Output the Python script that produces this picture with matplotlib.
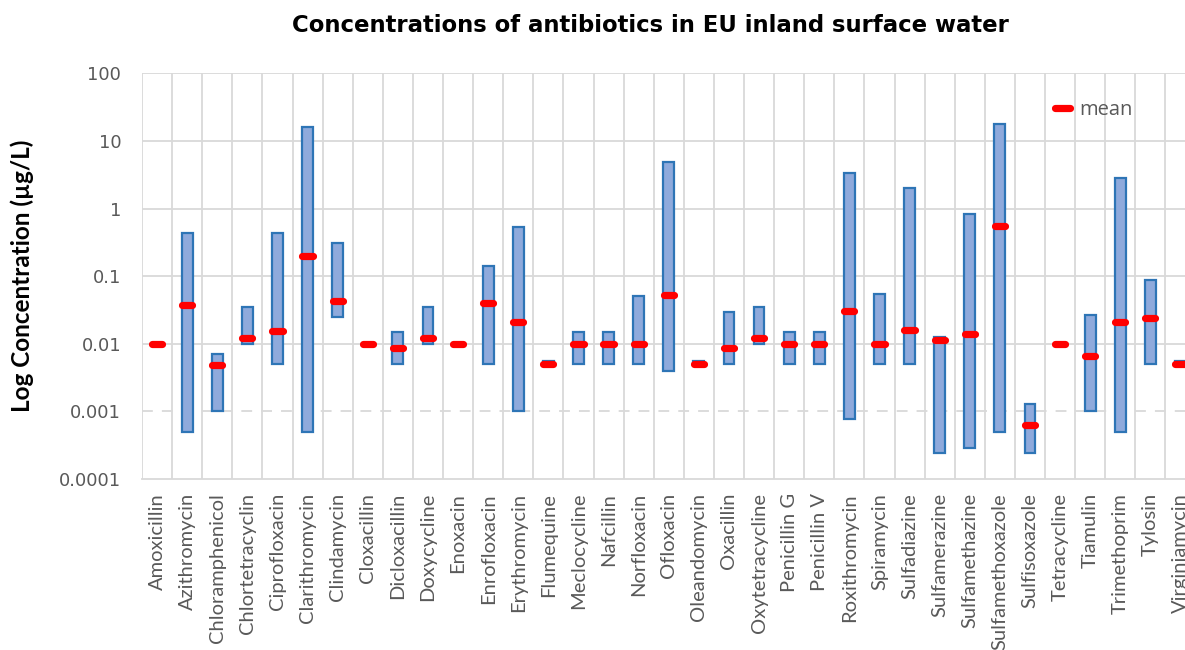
import matplotlib
matplotlib.use("Agg")
import matplotlib.pyplot as plt
from matplotlib.lines import Line2D
import numpy as np

categories = ["Amoxicillin", "Azithromycin", "Chloramphenicol", "Chlortetracyclin",
              "Ciprofloxacin", "Clarithromycin", "Clindamycin", "Cloxacillin",
              "Dicloxacillin", "Doxycycline", "Enoxacin", "Enrofloxacin",
              "Erythromycin", "Flumequine", "Meclocycline", "Nafcillin",
              "Norfloxacin", "Ofloxacin", "Oleandomycin", "Oxacillin",
              "Oxytetracycline", "Penicillin G", "Penicillin V", "Roxithromycin",
              "Spiramycin", "Sulfadiazine", "Sulfamerazine", "Sulfamethazine",
              "Sulfamethoxazole", "Sulfisoxazole", "Tetracycline", "Tiamulin",
              "Trimethoprim", "Tylosin", "Virginiamycin"]

min_vals = [0.01, 0.0005, 0.001, 0.01, 0.005, 0.0005, 0.025, 0.01,
            0.005, 0.01, 0.01, 0.005, 0.001, 0.005, 0.005, 0.005,
            0.005, 0.004, 0.005, 0.005, 0.01, 0.005, 0.005, 0.00078,
            0.005, 0.005, 0.00024, 0.00029, 0.0005, 0.00024, 0.01, 0.001,
            0.0005, 0.005, 0.005]

max_vals = [0.01, 0.44, 0.0071, 0.035, 0.44, 16.0, 0.31, 0.01,
            0.015, 0.035, 0.01, 0.143, 0.54, 0.0055, 0.015, 0.015,
            0.051, 4.9, 0.0055, 0.030, 0.035, 0.015, 0.015, 3.4,
            0.055, 2.03, 0.0127, 0.84, 17.6, 0.00127, 0.01, 0.0266,
            2.8, 0.0885, 0.0055]

mean_vals = [0.01, 0.038, 0.0048, 0.012, 0.0153, 0.198, 0.043, 0.01,
             0.0086, 0.012, 0.01, 0.04, 0.021, 0.005, 0.0098, 0.0098,
             0.01, 0.052, 0.005, 0.0086, 0.012, 0.0098, 0.0098, 0.031,
             0.01, 0.0158, 0.0115, 0.0139, 0.557, 0.00063, 0.01, 0.0066,
             0.021, 0.0238, 0.005]

y_ticks = [0.0001, 0.001, 0.01, 0.1, 1, 10, 100]
y_tick_labels = ["0.0001", "0.001", "0.01", "0.1", "1", "10", "100"]

W, H = 1185, 650
fig = plt.figure(figsize=(W / 100, H / 100), dpi=100)
left_px, right_px, top_px, bot_px = 142, 142 + 35 * 30.1, 73.3, 479
ax = fig.add_axes([left_px / W, 1 - bot_px / H, (right_px - left_px) / W, (bot_px - top_px) / H])

x = np.arange(len(categories))
mins = np.array(min_vals)
maxs = np.array(max_vals)
heights = maxs - mins

ax.bar(x, heights, bottom=mins, width=0.36, color="#8FAADC", edgecolor="#2E75B6",
       linewidth=1.6, zorder=3)
ax.hlines(mean_vals, x - 0.17, x + 0.17, colors="#FF0000", linewidth=5.2,
          capstyle="round", zorder=4)

ax.set_yscale("log")
ax.set_ylim(0.0001, 100)
ax.set_xlim(-0.5, len(categories) - 0.5)
ax.set_yticks(y_ticks)
ax.set_yticklabels(y_tick_labels, fontsize=13, color="#595959", family="DejaVu Sans")
ax.yaxis.set_minor_locator(matplotlib.ticker.NullLocator())
ax.tick_params(axis="y", length=0, pad=15)

ax.set_xticks(x)
ax.set_xticklabels(categories, rotation=90, fontsize=14.5, color="#595959",
                   family="Lato", va="top")
ax.set_xticks(np.arange(len(categories) + 1) - 0.5, minor=True)
ax.tick_params(axis="x", which="both", length=0, pad=10)

grid_color = "#D9D9D9"
for v in y_ticks[1:]:
    ls = (0, (6, 5)) if v == 0.001 else "-"
    ax.axhline(v, color=grid_color, linewidth=1.3, linestyle=ls, zorder=1)
ax.grid(which="minor", axis="x", color=grid_color, linewidth=1.3, zorder=1)
ax.grid(which="major", axis="x", visible=False)

for side in ["top", "right", "left"]:
    ax.spines[side].set_visible(False)
ax.spines["bottom"].set_color(grid_color)
ax.spines["bottom"].set_linewidth(1.3)

ax.set_ylabel("Log Concentration (µg/L)", fontsize=17.5, fontweight="bold",
              family="Lato", color="black")
ax.yaxis.set_label_coords(-(142 - 22) / (right_px - left_px), 0.5)
ax.yaxis.label.set_va("center")

fig.text(650 / W, 1 - 25 / H, "Concentrations of antibiotics in EU inland surface water",
         ha="center", va="center", fontsize=16.4, fontweight="bold", family="DejaVu Sans")

handle = Line2D([0], [0], color="#FF0000", linewidth=5.2, solid_capstyle="round")
leg = fig.legend([handle], ["mean"], loc="center left",
                 bbox_to_anchor=(1045 / W, 1 - 110 / H), frameon=False,
                 handlelength=0.75, handletextpad=0.45, borderpad=0,
                 prop={"family": "Open Sans", "size": 14.5})
for t in leg.get_texts():
    t.set_color("#595959")

fig.savefig("out.png", dpi=100)
